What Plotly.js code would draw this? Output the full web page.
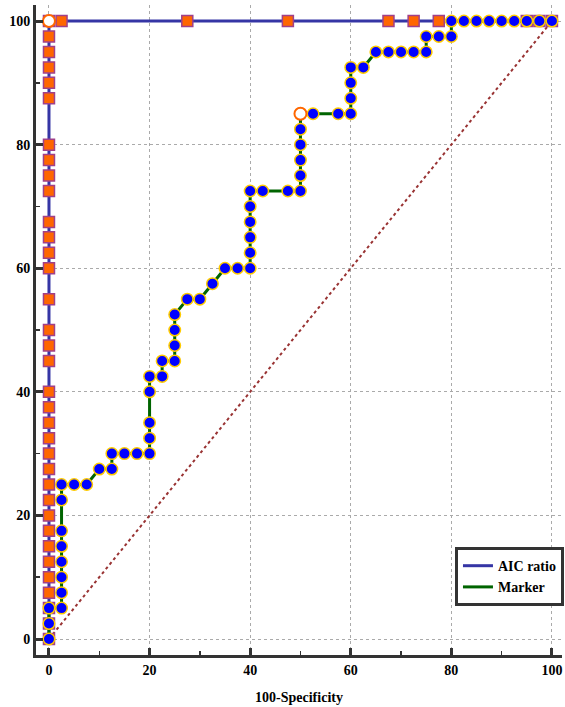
<!DOCTYPE html>
<html>
<head>
<meta charset="utf-8">
<script src="https://cdn.plot.ly/plotly-3.0.1.min.js"></script>
<style>html,body{margin:0;padding:0;background:#fff;}#chart{width:565px;height:707px;}</style>
</head>
<body>
<div id="chart"></div>
<script>
// AIC ratio ROC curve (100-Specificity, Sensitivity)
const aicX = [0,0,0,0,0,0,0,0,0,0,0,0,0,0,0,0,0,0,0,0,0,0,0,0,0,0,0,0,0,0,0,0,0,0,0,2.5,27.5,47.5,67.5,72.5,77.5,95,97.5,100];
const aicY = [0,2.5,5,7.5,10,12.5,15,17.5,20,22.5,25,27.5,30,32.5,35,37.5,40,45,47.5,50,55,60,62.5,65,67.5,72.5,75,77.5,80,87.5,90,92.5,95,97.5,100,100,100,100,100,100,100,100,100,100];

// Marker ROC curve
const markerX = [0,0,0,2.5,2.5,2.5,2.5,2.5,2.5,2.5,2.5,5,7.5,10,12.5,12.5,15,17.5,20,20,20,20,20,22.5,22.5,25,25,25,25,27.5,30,32.5,35,37.5,40,40,40,40,40,40,42.5,47.5,50,50,50,50,50,50,52.5,57.5,60,60,60,60,62.5,65,67.5,70,72.5,75,75,77.5,80,80,82.5,85,87.5,90,92.5,95,97.5,100];
const markerY = [0,2.5,5,5,7.5,10,12.5,15,17.5,22.5,25,25,25,27.5,27.5,30,30,30,30,32.5,35,40,42.5,42.5,45,45,47.5,50,52.5,55,55,57.5,60,60,60,62.5,65,67.5,70,72.5,72.5,72.5,72.5,75,77.5,80,82.5,85,85,85,85,87.5,90,92.5,92.5,95,95,95,95,95,97.5,97.5,97.5,100,100,100,100,100,100,100,100,100];

// Optimal criterion points
const optX = [0, 50];
const optY = [100, 85];

// Reference diagonal
const diagX = [0, 100];
const diagY = [0, 100];

const seriesNames = ["AIC ratio", "Marker"];
const majorStep = 20;
const minorStep = 10;
const xRange = [-2.58, 102.0];
const yRange = [-2.59, 102.6];

const serif = "'Liberation Serif', 'Times New Roman', serif";

const traces = [
  {x: diagX, y: diagY, mode: 'lines', line: {color: '#993333', width: 2, dash: 'dot'}, showlegend: false, hoverinfo: 'skip'},
  {x: aicX, y: aicY, mode: 'lines+markers', name: seriesNames[0], showlegend: false,
   line: {color: '#3535a5', width: 3},
   marker: {symbol: 'square', size: 11, color: '#ff6600', line: {color: '#a0408a', width: 1.5}}},
  {x: markerX, y: markerY, mode: 'lines+markers', name: seriesNames[1], showlegend: false,
   line: {color: '#006400', width: 3},
   marker: {symbol: 'circle', size: 11.5, color: '#0000ff', line: {color: '#ffcc00', width: 1.5}}},
  {x: optX, y: optY, mode: 'markers', showlegend: false,
   marker: {symbol: 'circle', size: 12, color: '#ffffff', line: {color: '#ff6600', width: 2}}},
  {x: [null], y: [null], mode: 'lines', name: seriesNames[0], line: {color: '#3535a5', width: 3}},
  {x: [null], y: [null], mode: 'lines', name: seriesNames[1], line: {color: '#006400', width: 3}},
  // carrier for the minor-tick overlay axes
  {x: [null], y: [null], mode: 'lines', xaxis: 'x2', yaxis: 'y2', showlegend: false, hoverinfo: 'skip'}
];

const axisCommon = {
  showline: true, linecolor: '#333333', linewidth: 3, mirror: false,
  zeroline: false,
  showgrid: true, gridcolor: '#aaaaaa', gridwidth: 1, griddash: 'dot',
  ticks: 'inside', ticklen: 7, tickwidth: 3, tickcolor: '#333333',
  tickmode: 'linear', tick0: 0, dtick: majorStep,
  tickfont: {family: serif, size: 14, color: '#000', weight: 'bold'}
};

const minorCommon = {
  showline: false, zeroline: false, showgrid: false, gridcolor: 'rgba(0,0,0,0)', gridwidth: 0,
  showticklabels: false,
  ticks: 'inside', ticklen: 4, tickwidth: 1.5, tickcolor: '#333333',
  tickmode: 'linear', tick0: minorStep, dtick: majorStep
};

const layout = {
  width: 565, height: 707,
  margin: {l: 36, r: 2, t: 5, b: 52},
  paper_bgcolor: '#ffffff', plot_bgcolor: '#ffffff',
  showlegend: true,
  xaxis: Object.assign({}, axisCommon, {
    range: xRange,
    title: {text: '100-Specificity', font: {family: serif, size: 14, color: '#000', weight: 'bold'}, standoff: 16}
  }),
  yaxis: Object.assign({}, axisCommon, {range: yRange}),
  xaxis2: Object.assign({}, minorCommon, {range: xRange, overlaying: 'x', anchor: 'y2', side: 'bottom'}),
  yaxis2: Object.assign({}, minorCommon, {range: yRange, overlaying: 'y', anchor: 'x2', side: 'left'}),
  legend: {
    x: 0.795, y: 0.166, xanchor: 'left', yanchor: 'top',
    bgcolor: '#ffffff', bordercolor: '#333333', borderwidth: 3,
    font: {family: serif, size: 14, color: '#000', weight: 'bold'},
    itemwidth: 30,
    tracegroupgap: 0
  }
};

Plotly.newPlot('chart', traces, layout, {displayModeBar: false, staticPlot: true});
</script>
</body>
</html>
